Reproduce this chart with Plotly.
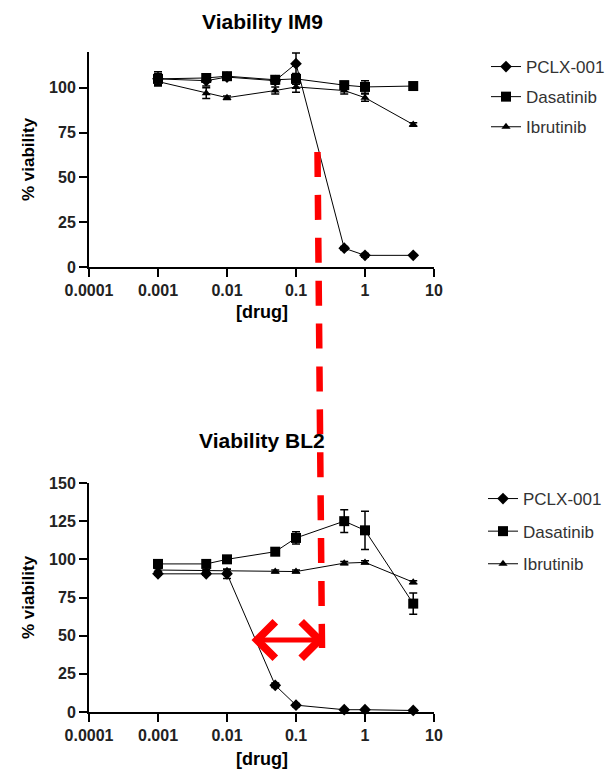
import plotly.graph_objects as go

# ---- data ----
conc = [0.001, 0.005, 0.01, 0.05, 0.1, 0.5, 1, 5]
series_names = ["PCLX-001", "Dasatinib", "Ibrutinib"]

im9_pclx = [105, 104, 106, 104, 113.5, 10.5, 6.5, 6.5]
im9_pclx_err = [3, 3, 1, 2, 6, 1, 1, 0.5]
im9_dasa = [105, 105.5, 106.5, 104.5, 105, 101.5, 100.5, 101]
im9_dasa_err = [4, 2, 1, 2, 3, 2, 3.5, 2]
im9_ibru = [103.5, 97, 94.5, 98.5, 100.5, 98.5, 94.5, 79.5]
im9_ibru_err = [2, 3, 1, 2, 3, 2, 2, 1]

bl2_pclx = [90.5, 90.5, 90.5, 17.5, 4.5, 1.5, 1.5, 1]
bl2_pclx_err = [1, 1, 3, 1.5, 1, 0.5, 0.5, 0.5]
bl2_dasa = [97, 97, 100, 105, 114, 125, 119, 71]
bl2_dasa_err = [2, 2, 2, 1.5, 4, 7.5, 12.5, 7]
bl2_ibru = [93, 92.5, 92.5, 92, 92, 97.5, 98, 85]
bl2_ibru_err = [1, 1, 1, 1, 1, 1, 1, 1]

x_tickvals = [0.0001, 0.001, 0.01, 0.1, 1, 10]
x_ticktext = ["0.0001", "0.001", "0.01", "0.1", "1", "10"]
im9_yticks = [0, 25, 50, 75, 100]
bl2_yticks = [0, 25, 50, 75, 100, 125, 150]

# page has an 8px body margin; figure sized to fit the window
OFF = 8
FW, FH = 615 - OFF, 771 - OFF
FONT = "Liberation Sans, Arial, sans-serif"

def px(x):
    return (x - OFF) / FW

def py(y):
    return 1 - (y - OFF) / FH

symbols = ["diamond", "square", "triangle-up"]
sizes = [9, 10, 8]

fig = go.Figure()

def add_set(vals, errs, xa, ya, leg):
    for name, v, e, s, sz in zip(series_names, vals, errs, symbols, sizes):
        fig.add_trace(go.Scatter(
            x=conc, y=v, name=name, mode="lines+markers",
            xaxis=xa, yaxis=ya, legend=leg, legendgroup=leg + name,
            line=dict(color="black", width=1),
            marker=dict(symbol=s, size=sz, color="black"),
            error_y=dict(type="data", array=e, color="black", thickness=1.5, width=4),
            cliponaxis=False,
        ))

add_set([im9_pclx, im9_dasa, im9_ibru], [im9_pclx_err, im9_dasa_err, im9_ibru_err], "x", "y", "legend")
add_set([bl2_pclx, bl2_dasa, bl2_ibru], [bl2_pclx_err, bl2_dasa_err, bl2_ibru_err], "x2", "y2", "legend2")

xdom = [px(89), px(434)]
top_dom = [py(267), py(52)]
bot_dom = [py(712), py(483)]

axis_common = dict(showline=True, linecolor="black", linewidth=2, ticks="outside",
                   ticklen=8, tickwidth=2, tickcolor="black", showgrid=False, zeroline=False,
                   automargin=False,
                   tickfont=dict(family=FONT, size=16, color="#222", weight="bold"))

legend_font = dict(family=FONT, size=17, color="#333")

fig.update_layout(
    width=FW, height=FH, margin=dict(l=0, r=0, t=0, b=0),
    paper_bgcolor="white", plot_bgcolor="white",
    font=dict(family=FONT, color="black"),
    xaxis=dict(domain=xdom, anchor="y", type="log", range=[-4, 1],
               tickvals=x_tickvals, ticktext=x_ticktext, **axis_common),
    yaxis=dict(domain=top_dom, anchor="x", range=[0, 120], tickvals=im9_yticks, **axis_common),
    xaxis2=dict(domain=xdom, anchor="y2", type="log", range=[-4, 1],
                tickvals=x_tickvals, ticktext=x_ticktext, **axis_common),
    yaxis2=dict(domain=bot_dom, anchor="x2", range=[0, 150], tickvals=bl2_yticks, **axis_common),
    legend=dict(x=px(486), y=py(49), xanchor="left", yanchor="top",
                font=legend_font, tracegroupgap=5, bgcolor="rgba(0,0,0,0)"),
    legend2=dict(x=px(483), y=py(481), xanchor="left", yanchor="top",
                 font=legend_font, tracegroupgap=7.5, bgcolor="rgba(0,0,0,0)"),
    showlegend=True,
)

def txt(s, x, y, size=13, angle=0, bold=True, yanchor="middle"):
    fig.add_annotation(text=s, x=px(x), y=py(y), xref="paper", yref="paper",
                       showarrow=False, textangle=angle, xanchor="center", yanchor=yanchor,
                       font=dict(family=FONT, size=size, color="black",
                                 weight="bold" if bold else "normal"))

txt("Viability IM9", 262, 8, size=21, yanchor="top")
txt("Viability BL2", 262, 440, size=21)
txt("[drug]", 262, 312, size=18)
txt("[drug]", 262, 771, size=18, yanchor="bottom")
txt("% viability", 28, 159, size=17, angle=-90)
txt("% viability", 28, 597, size=17, angle=-90)

# red dashed guide line spanning both panels
fig.add_shape(type="line", xref="paper", yref="paper",
              x0=px(317.5), y0=py(152), x1=px(322), y1=py(648),
              line=dict(color="#ff0000", width=6.5, dash="25px,17.9px"))

# red double-headed arrow
fig.add_annotation(text="", xref="paper", yref="paper", x=px(325), y=py(640),
                   axref="pixel", ayref="pixel", ax=-75, ay=0,
                   showarrow=True, arrowhead=4, startarrowhead=4, arrowside="end+start",
                   arrowwidth=5, arrowsize=1.4, startarrowsize=1.4, arrowcolor="#ff0000")

fig.write_html("out.html")
